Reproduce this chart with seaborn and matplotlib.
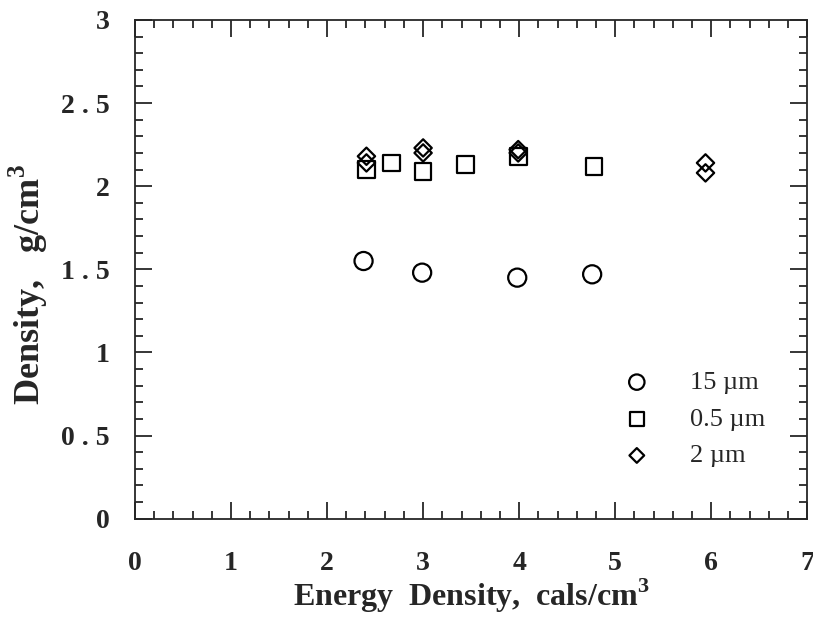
import numpy as np
import pandas as pd
import matplotlib
matplotlib.use("Agg")
import matplotlib.pyplot as plt
from matplotlib.ticker import MultipleLocator, FixedLocator, FixedFormatter
import seaborn as sns

sns.set_style("ticks")
plt.rcParams['font.family'] = ['Liberation Serif', 'DejaVu Serif']
plt.rcParams['mathtext.fontset'] = 'custom'
plt.rcParams['mathtext.rm'] = 'Liberation Serif'
plt.rcParams['mathtext.bf'] = 'Liberation Serif:bold'

# 15 um powder
x_15 = [2.38, 2.99, 3.98, 4.76]
y_15 = [1.55, 1.48, 1.45, 1.47]

# 0.5 um powder
x_05 = [2.41, 2.67, 3.00, 3.44, 3.99, 4.78]
y_05 = [2.10, 2.14, 2.09, 2.13, 2.18, 2.12]

# 2 um powder
x_2 = [2.41, 2.41, 3.00, 3.00, 3.99, 3.99, 5.94, 5.94]
y_2 = [2.18, 2.14, 2.23, 2.20, 2.22, 2.20, 2.14, 2.08]

y_ticks = [0, 0.5, 1, 1.5, 2, 2.5, 3]
y_tick_labels = ['0', '0 . 5', '1', '1 . 5', '2', '2 . 5', '3']

fig = plt.figure(figsize=(8.13, 6.22), dpi=100)
ax = fig.add_axes([0.166, 0.166, 0.827, 0.802])

common = dict(facecolor='none', edgecolor='black', linewidth=1.6, ax=ax)
sns.scatterplot(x=x_15, y=y_15, marker='o', s=170, label='15 \u00b5m', **common)
sns.scatterplot(x=x_05, y=y_05, marker='s', s=145, label='0.5 \u00b5m', **common)
sns.scatterplot(x=x_2, y=y_2, marker='D', s=78, label='2 \u00b5m', **common)

ax.set_xlim(0, 7)
ax.set_ylim(0, 3)
ax.xaxis.set_major_locator(MultipleLocator(1))
ax.xaxis.set_minor_locator(MultipleLocator(0.2))
ax.yaxis.set_major_locator(FixedLocator(y_ticks))
ax.yaxis.set_major_formatter(FixedFormatter(y_tick_labels))
ax.yaxis.set_minor_locator(MultipleLocator(0.1))
ax.tick_params(which='both', direction='in', top=True, right=True, width=1.3)
ax.tick_params(which='major', length=12, labelsize=20)
ax.tick_params(which='minor', length=6)
ax.tick_params(axis='x', which='major', pad=23)
ax.tick_params(axis='y', which='major', pad=18)
for lab in ax.get_xticklabels() + ax.get_yticklabels():
    lab.set_fontweight('bold')
for sp in ax.spines.values():
    sp.set_linewidth(1.3)

ax.set_xlabel('Energy  Density,  cals/cm$^\\mathbf{3}$', fontsize=23, fontweight='bold', labelpad=1)
ax.set_ylabel('Density,   g/cm$^\\mathbf{3}$', fontsize=26, fontweight='bold')
ax.yaxis.set_label_coords(-0.127, 0.47)

leg = ax.legend(loc='center', bbox_to_anchor=(0.822, 0.2), frameon=False, fontsize=19,
                handletextpad=1.0, labelspacing=0.5, markerscale=0.85)

fig.savefig('out.png', dpi=100)
